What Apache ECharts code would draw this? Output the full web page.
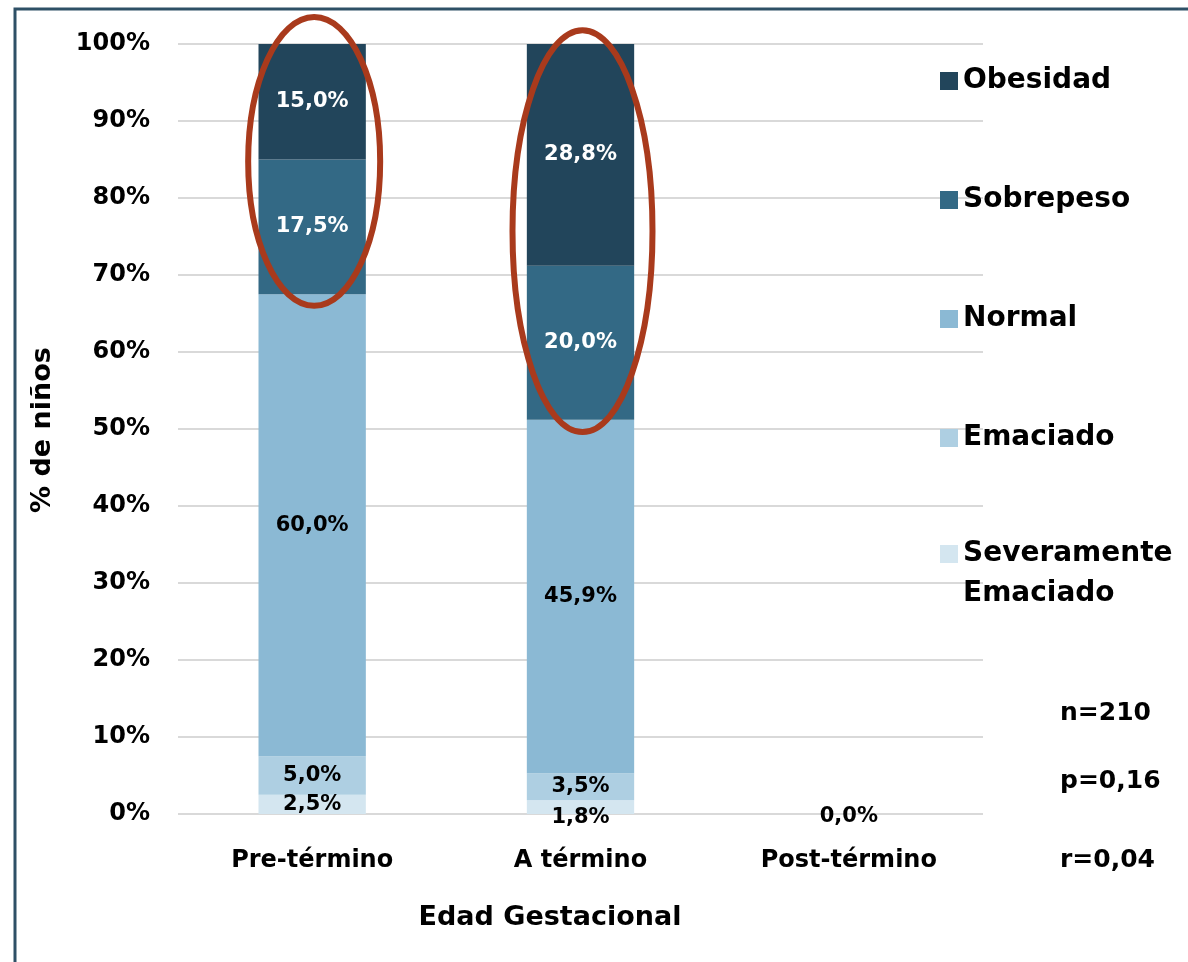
<!DOCTYPE html>
<html>
<head>
<meta charset="utf-8">
<script src="https://cdn.jsdelivr.net/npm/echarts@6/dist/echarts.min.js"></script>
<style>
  html, body { margin: 0; padding: 0; background: #fff; }
  #chart { width: 1188px; height: 962px; }
</style>
</head>
<body>
<div id="chart"></div>
<script>
// categorias
const categories = ['Pre-término', 'A término', 'Post-término']

// valores (%) por estado nutricional
const sevEmaciado = [2.5, 1.8, 0]
const emaciado = [5.0, 3.5, 0]
const normal = [60.0, 45.9, 0]
const sobrepeso = [17.5, 20.0, 0]
const obesidad = [15.0, 28.8, 0]

const seriesNames = ['Severamente Emaciado', 'Emaciado', 'Normal', 'Sobrepeso', 'Obesidad']
const seriesValues = [sevEmaciado, emaciado, normal, sobrepeso, obesidad]
const stats = ['n=210', 'p=0,16', 'r=0,04']

const colors = ['#d4e6f0', '#aecfe2', '#8bb9d4', '#336985', '#22455b']
const labelColors = ['#000', '#000', '#000', '#fff', '#fff']
const FONT = 'DejaVu Sans'

const chart = echarts.init(document.getElementById('chart'))

const fmt = (v) => v.toFixed(1).replace('.', ',') + '%'

// series
const series = seriesNames.map((name, si) => ({
  name,
  type: 'bar',
  stack: 'total',
  barWidth: '40%',
  itemStyle: { color: colors[si] },
  label: {
    show: true,
    position: 'inside',
    color: labelColors[si],
    fontFamily: FONT,
    fontWeight: 'bold',
    fontSize: 21,
    formatter: (p) => (p.value === 0 && si !== 0 ? '' : fmt(p.value))
  },
  data: seriesValues[si].map((v) => {
    if (v > 0 && v < 2) return { value: v, label: { offset: [0, 10] } }
    if (v === 0) return { value: v, label: { offset: [0, 3] } }
    return v
  })
}))

const legendText = {
  fontFamily: FONT,
  fontWeight: 'bold',
  fontSize: 28,
  color: '#000'
}

const option = {
  animation: false,
  backgroundColor: '#fff',
  grid: { left: 178, right: 205, top: 44, bottom: 148 },
  legend: [
    {
      orient: 'vertical',
      left: 940,
      top: 64,
      padding: 0,
      icon: 'rect',
      itemWidth: 18,
      itemHeight: 18,
      itemGap: 85,
      data: ['Obesidad', 'Sobrepeso', 'Normal', 'Emaciado'],
      textStyle: { ...legendText, lineHeight: 34 }
    },
    {
      orient: 'vertical',
      left: 940,
      top: 494,
      padding: 0,
      icon: 'rect',
      itemWidth: 18,
      itemHeight: 18,
      data: ['Severamente Emaciado'],
      // linea vacia arriba para que el cuadro quede a la altura de la primera linea
      formatter: (n) => ' \n' + n.replace(' ', '\n'),
      textStyle: { ...legendText, lineHeight: 40 }
    }
  ],
  xAxis: {
    type: 'category',
    data: categories,
    axisLine: { show: false },
    axisTick: { show: false },
    axisLabel: {
      margin: 35,
      color: '#000',
      fontFamily: FONT,
      fontWeight: 'bold',
      fontSize: 24
    }
  },
  yAxis: {
    type: 'value',
    min: 0,
    max: 100,
    interval: 10,
    axisLine: { show: false },
    axisTick: { show: false },
    splitLine: { lineStyle: { color: '#d9d9d9', width: 2 } },
    axisLabel: {
      margin: 28,
      formatter: '{value}%',
      color: '#000',
      fontFamily: FONT,
      fontWeight: 'bold',
      fontSize: 24
    }
  },
  series
}

chart.setOption(option)

// elipses rojas (rango en %)
const highlights = [
  { cat: 'Pre-término', from: 66, to: 103.5, rx: 66 },
  { cat: 'A término', from: 49.6, to: 101.8, rx: 70 }
]

const graphic = [
  {
    type: 'rect',
    silent: true,
    shape: { x: 15, y: 9, width: 1400, height: 1200 },
    style: { fill: 'none', stroke: '#2e5066', lineWidth: 3 }
  },
  {
    type: 'text',
    x: 43,
    y: 430,
    rotation: Math.PI / 2,
    style: {
      text: '% de niños',
      align: 'center',
      verticalAlign: 'middle',
      fill: '#000',
      font: 'bold 27px "DejaVu Sans"'
    }
  },
  {
    type: 'text',
    x: 550,
    y: 918,
    style: {
      text: 'Edad Gestacional',
      align: 'center',
      verticalAlign: 'middle',
      fill: '#000',
      font: 'bold 27px "DejaVu Sans"'
    }
  }
]

const statY = [713, 781, 860]
stats.forEach((t, i) => {
  graphic.push({
    type: 'text',
    x: 1060,
    y: statY[i],
    style: {
      text: t,
      align: 'left',
      verticalAlign: 'middle',
      fill: '#000',
      font: 'bold 25px "DejaVu Sans"'
    }
  })
})

highlights.forEach((h) => {
  const top = chart.convertToPixel({ xAxisIndex: 0, yAxisIndex: 0 }, [h.cat, h.to])
  const bottom = chart.convertToPixel({ xAxisIndex: 0, yAxisIndex: 0 }, [h.cat, h.from])
  graphic.push({
    type: 'ellipse',
    silent: true,
    z: 100,
    shape: {
      cx: top[0] + 2,
      cy: (top[1] + bottom[1]) / 2,
      rx: h.rx,
      ry: (bottom[1] - top[1]) / 2
    },
    style: { fill: 'none', stroke: '#a93a1c', lineWidth: 6 }
  })
})

chart.setOption({ graphic })

window.addEventListener('resize', () => chart.resize())
</script>
</body>
</html>
